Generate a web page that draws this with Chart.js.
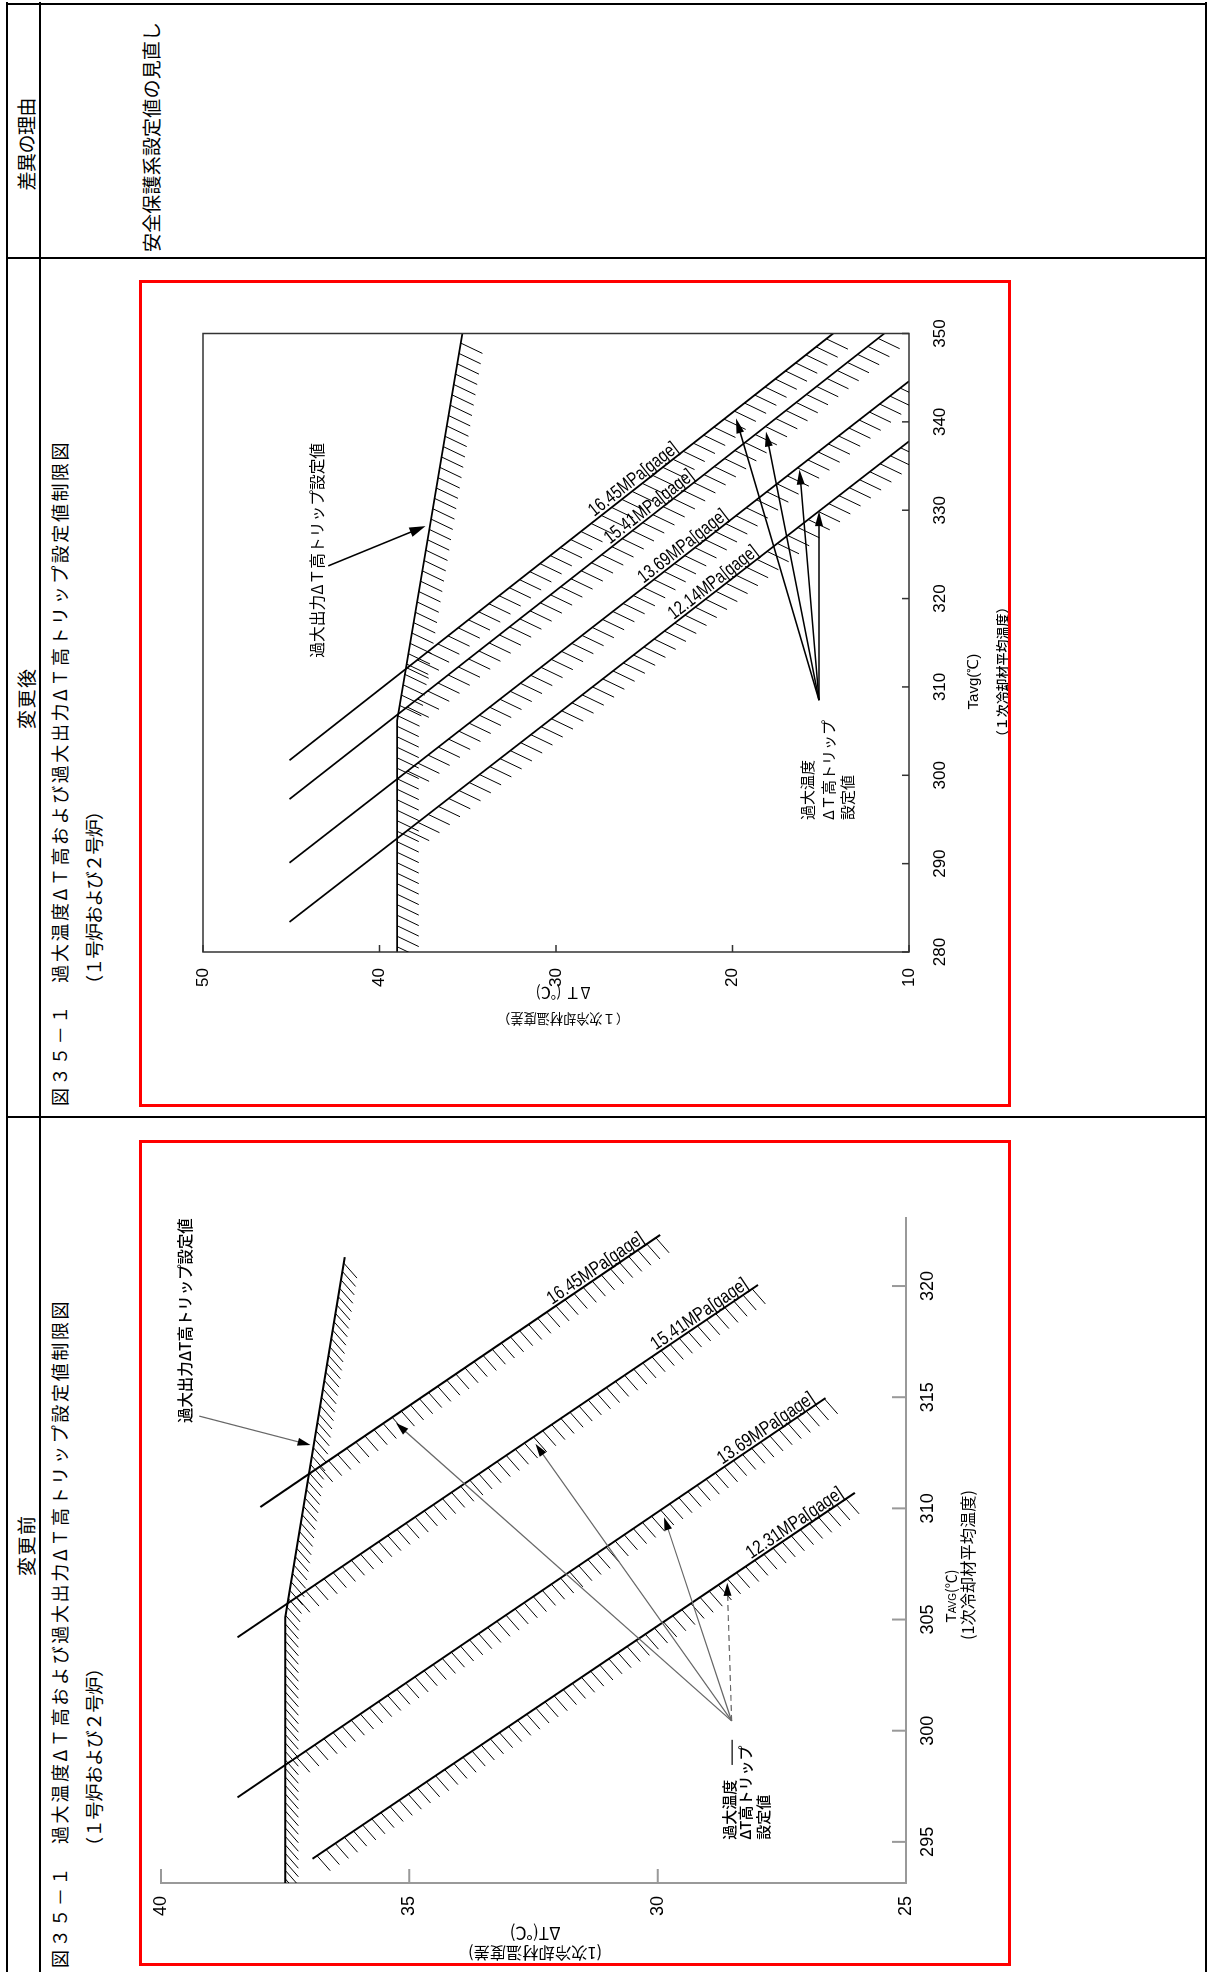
<!DOCTYPE html>
<html lang="ja"><head><meta charset="utf-8"><title>図35-1 過大温度ΔT高および過大出力ΔT高トリップ設定値制限図</title>
<script src="https://cdn.jsdelivr.net/npm/chart.js@4.4.1/dist/chart.umd.min.js"></script>
<style>
html,body{margin:0;padding:0;background:#fff;width:1208px;height:1972px;overflow:hidden;}
#page{position:absolute;left:0;top:0;width:1972px;height:1208px;transform-origin:0 0;transform:translate(0px,1972px) rotate(-90deg);background:#fff;}
.ln{position:absolute;background:#000;}
.tx{position:absolute;white-space:nowrap;line-height:1;font-family:"Noto Sans CJK JP",sans-serif;color:#000;}
.red{position:absolute;border:3px solid #ff0000;box-sizing:border-box;pointer-events:none;}
canvas{position:absolute;}
</style></head><body>
<div id="page">
  <div class="ln" style="left:-10px;top:6px;width:1980px;height:2px"></div>
  <div class="ln" style="left:-10px;top:39px;width:1980px;height:2px"></div>
  <div class="ln" style="left:-10px;top:1205px;width:1980px;height:2px"></div>
  <div class="ln" style="left:1967px;top:6px;width:2px;height:1201px"></div>
  <div class="ln" style="left:1713px;top:6px;width:2px;height:1201px"></div>
  <div class="ln" style="left:854px;top:6px;width:2px;height:1201px"></div>
  <canvas id="cBefore" width="826" height="872" style="left:6px;top:139px"></canvas>
  <canvas id="cAfter" width="827" height="872" style="left:865px;top:139px"></canvas>
  <div class="red" style="left:6px;top:139px;width:826px;height:872px"></div>
  <div class="red" style="left:865px;top:139px;width:827px;height:872px"></div>
</div>
<script>
// ===== table texts =====
const headerTexts = ['変更前', '変更後', '差異の理由'];
const reasonText = '安全保護系設定値の見直し';
const titleLine1 = '図３５－１　過大温度ΔＴ高および過大出力ΔＴ高トリップ設定値制限図';
const titleLine2 = '（１号炉および２号炉）';

// ===== 変更後 (after) chart data =====
const afterTickT = [280, 290, 300, 310, 320, 330, 340, 350];
const afterTickDT = [10, 20, 30, 40, 50];
const afterOpT = [280, 306.2, 350];
const afterOpDT = [39.0, 39.0, 35.3];
const afterNames = ['16.45MPa[gage]', '15.41MPa[gage]', '13.69MPa[gage]', '12.14MPa[gage]'];
const afterLineT = [[301.7, 350], [297.3, 350], [290.1, 344.6], [283.4, 337.8]];
const afterLineDT = [[45.1, 14.3], [45.1, 11.4], [45.1, 10.0], [45.1, 10.0]];
const afterLabelT = [336.5, 333.4, 328.9, 324.8];
const afterTripFrom = [308.5, 15.1];
const afterTripTipT = [340.4, 338.9, 334.6, 329.9];
const afterTripTipDT = [19.8, 18.1, 16.2, 15.1];
const afterOpArrowT = [323.7, 328.2];
const afterOpArrowDT = [42.9, 37.4];
const afterOpText = '過大出力ΔＴ高トリップ設定値';
const afterOpTextPos = [313.3, 43.55];
const afterTripText = ['過大温度', 'ΔＴ高トリップ', '設定値'];
const afterTripTextT = 294.95;
const afterTripTextDT = [15.76, 14.57, 13.5];
const afterYTitle = ['ΔＴ (℃)', '（１次冷却材温度差）'];
const afterXTitle = ['Tavg(℃)', '（１次冷却材平均温度）'];

// ===== 変更前 (before) chart data =====
const beforeTickT = [295, 300, 305, 310, 315, 320];
const beforeTickDT = [25, 30, 35, 40];
const beforeRangeT = [293.15, 323.06];
const beforeOpT = [293.15, 305.1, 321.3];
const beforeOpDT = [37.5, 37.5, 36.3];
const beforeNames = ['16.45MPa[gage]', '15.41MPa[gage]', '13.69MPa[gage]', '12.31MPa[gage]'];
const beforeLineT = [[310.06, 322.3], [304.2, 320.05], [297.0, 314.96], [294.24, 310.7]];
const beforeLineDT = [[38.0, 29.95], [38.46, 27.98], [38.46, 26.62], [36.95, 26.03]];
const beforeLabelT = [321.9, 319.84, 314.71, 310.44];
const beforeTripFrom = [300.44, 28.51];
const beforeTripTipT = [313.84, 312.9, 309.6, 306.65];
const beforeTripTipDT = [35.27, 32.46, 29.87, 28.6];
const beforeLeaderT = [298.46, 299.59];
const beforeLeaderDT = 28.5;
const beforeOpArrowT = [314.15, 312.85];
const beforeOpArrowDT = [39.23, 36.99];
const beforeOpText = '過大出力ΔT高トリップ設定値';
const beforeOpTextPos = [313.84, 39.52];
const beforeTripText = ['過大温度', 'ΔT高トリップ', '設定値'];
const beforeTripTextT = 295.09;
const beforeTripTextDT = [28.56, 28.24, 27.88];
const beforeYTitle = ['ΔT(℃)', '(1次冷却材温度差)'];
const beforeXTitle = ['T', 'AVG', '(℃)', '(1次冷却材平均温度)'];

// ===== build table texts =====
const page = document.getElementById('page');
function addText(s, o) {
  const el = document.createElement('div');
  el.className = 'tx';
  el.textContent = s;
  el.style.fontSize = o.size + 'px';
  if (o.weight) el.style.fontWeight = o.weight;
  el.style.top = (o.cy - o.size * 0.55) + 'px';
  page.appendChild(el);
  const n = [...s].length;
  const w0 = el.offsetWidth;
  if (o.w && n > 1) el.style.letterSpacing = ((o.w - w0) / (n - 1)) + 'px';
  const left = (o.cx !== undefined) ? o.cx - o.w / 2 : o.x;
  el.style.left = left + 'px';
}
addText(headerTexts[0], {cx: 426, cy: 26, size: 19, w: 60});
addText(headerTexts[1], {cx: 1273, cy: 26, size: 19, w: 60});
addText(headerTexts[2], {cx: 1828, cy: 26, size: 19, w: 93});
addText(reasonText, {x: 1720, cy: 151, size: 19, w: 230});
addText(titleLine1, {x: 866, cy: 60, size: 18, w: 664});
addText(titleLine2, {x: 979, cy: 94, size: 18, w: 191});
addText(titleLine1, {x: 4, cy: 60, size: 18, w: 667});
addText(titleLine2, {x: 117, cy: 94, size: 18, w: 196});

// ===== helpers =====
const JP = '"Noto Sans CJK JP", sans-serif';
const NARROW = '"Liberation Sans Narrow", "Liberation Sans", sans-serif';
function interp(xs, ys, x) {
  if (x <= xs[0]) return ys[0];
  for (let i = 1; i < xs.length; i++) {
    if (x <= xs[i]) { const f = (x - xs[i-1]) / (xs[i] - xs[i-1]); return ys[i-1] + f * (ys[i] - ys[i-1]); }
  }
  return ys[ys.length - 1];
}
function drawText(ctx, s, x, y, o) {
  ctx.save();
  let size = o.size;
  const fam = o.family || JP;
  ctx.font = (o.weight || 'normal') + ' ' + size + 'px ' + fam;
  if (o.fitW) { const w = ctx.measureText(s).width; size = size * o.fitW / w; ctx.font = (o.weight || 'normal') + ' ' + size + 'px ' + fam; }
  ctx.fillStyle = o.color || '#000';
  ctx.textAlign = o.align || 'left';
  ctx.textBaseline = o.baseline || 'middle';
  ctx.translate(x, y);
  if (o.rot) ctx.rotate(o.rot);
  ctx.fillText(s, 0, 0);
  ctx.restore();
}
function hatchLine(ctx, xs, ys, h) {
  const pts = h.T.map((t, i) => [xs.getPixelForValue(t), ys.getPixelForValue(h.D[i])]);
  let carry = h.step / 2;
  for (let i = 1; i < pts.length; i++) {
    const [x0, y0] = pts[i-1], [x1, y1] = pts[i];
    const len = Math.hypot(x1 - x0, y1 - y0); if (!len) continue;
    const ux = (x1 - x0) / len, uy = (y1 - y0) / len;
    let s = carry;
    for (; s <= len; s += h.step) {
      const px = x0 + ux * s, py = y0 + uy * s;
      if (h.limT) {
        const t = xs.getValueForPixel(px), d = ys.getValueForPixel(py);
        if (d > interp(h.limT, h.limD, t) - 0.05) continue;
      }
      ctx.moveTo(px, py); ctx.lineTo(px + h.dir[0] * h.len, py + h.dir[1] * h.len);
    }
    carry = s - len;
  }
}
function arrow(ctx, x0, y0, x1, y1, a) {
  const ang = Math.atan2(y1 - y0, x1 - x0), c = Math.cos(ang), s = Math.sin(ang);
  ctx.save();
  ctx.strokeStyle = a.color; ctx.lineWidth = a.width; ctx.setLineDash(a.dash || []);
  ctx.beginPath(); ctx.moveTo(x0, y0); ctx.lineTo(x1 - c * a.head * 0.7, y1 - s * a.head * 0.7); ctx.stroke();
  ctx.setLineDash([]); ctx.fillStyle = '#000';
  ctx.beginPath(); ctx.moveTo(x1, y1);
  ctx.lineTo(x1 - c * a.head - s * a.half, y1 - s * a.head + c * a.half);
  ctx.lineTo(x1 - c * a.head + s * a.half, y1 - s * a.head - c * a.half);
  ctx.closePath(); ctx.fill();
  ctx.restore();
}

function makeOverlay(cfg) {
  return {
    id: 'overlay_' + cfg.name,
    afterDatasetsDraw(chart) {
      const ctx = chart.ctx, xs = chart.scales.x, ys = chart.scales.y, ca = chart.chartArea;
      const X = v => xs.getPixelForValue(v), Y = v => ys.getPixelForValue(v);
      ctx.save();
      if (cfg.frame) {
        ctx.strokeStyle = cfg.frame.color; ctx.lineWidth = cfg.frame.width;
        ctx.strokeRect(ca.left, ca.top, ca.right - ca.left, ca.bottom - ca.top);
      }
      // inward tick marks
      ctx.strokeStyle = cfg.tick.color; ctx.lineWidth = cfg.tick.width; ctx.beginPath();
      cfg.tick.x.forEach(v => { const p = X(v); ctx.moveTo(p, ca.bottom); ctx.lineTo(p, ca.bottom - cfg.tick.len); });
      cfg.tick.y.forEach(v => { const p = Y(v); ctx.moveTo(ca.left, p); ctx.lineTo(ca.left + cfg.tick.len, p); });
      ctx.stroke();
      // hatching
      ctx.save();
      ctx.beginPath(); ctx.rect(ca.left, ca.top, ca.right - ca.left, ca.bottom - ca.top); ctx.clip();
      ctx.strokeStyle = '#000'; ctx.lineWidth = cfg.hatchWidth; ctx.beginPath();
      cfg.hatches.forEach(h => hatchLine(ctx, xs, ys, h));
      ctx.stroke();
      ctx.restore();
      // pressure labels along lines
      cfg.lines.forEach(L => {
        const x0 = X(L.T[0]), y0 = Y(L.D[0]), x1 = X(L.T[L.T.length-1]), y1 = Y(L.D[L.D.length-1]);
        const ang = Math.atan2(y1 - y0, x1 - x0);
        const px = X(L.labelT), py = Y(interp(L.T, L.D, L.labelT));
        ctx.save();
        ctx.translate(px, py); ctx.rotate(ang);
        ctx.font = cfg.labelFont.size + 'px ' + NARROW;
        const w = ctx.measureText(L.name).width;
        ctx.scale(cfg.labelFont.width / w, 1);
        ctx.fillStyle = '#000'; ctx.textAlign = 'right'; ctx.textBaseline = 'alphabetic';
        ctx.fillText(L.name, 0, -cfg.labelFont.gap);
        ctx.restore();
      });
      // arrows
      cfg.arrows.forEach(a => arrow(ctx, X(a.from[0]), Y(a.from[1]), X(a.to[0]), Y(a.to[1]), a.style));
      (cfg.segments || []).forEach(sg => {
        ctx.save(); ctx.strokeStyle = sg.color; ctx.lineWidth = sg.width; ctx.beginPath();
        ctx.moveTo(X(sg.T[0]), Y(sg.D)); ctx.lineTo(X(sg.T[1]), Y(sg.D)); ctx.stroke(); ctx.restore();
      });
      // texts in data coordinates
      cfg.texts.forEach(t => drawText(ctx, t.s, X(t.T), Y(t.D), t.o));
      // axis titles
      cfg.yTitle.forEach(t => drawText(ctx, t.s, ca.left + t.dx, Y(t.D), Object.assign({rot: -Math.PI / 2, align: 'center'}, t.o)));
      cfg.xTitle(ctx, X, ca);
      ctx.restore();
    }
  };
}

const lineStyle = {showLine: true, borderColor: '#000', pointRadius: 0, fill: false, tension: 0};
function toPts(T, D) { return T.map((t, i) => ({x: t, y: D[i]})); }

// ===== after (変更後) =====
const hatchDirAfter = [-0.43, 0.9];
const cfgAfter = {
  name: 'after',
  frame: {color: '#333', width: 1.5},
  tick: {x: afterTickT, y: afterTickDT, len: 7, color: '#333', width: 1.5},
  hatchWidth: 1,
  hatches: [{T: afterOpT, D: afterOpDT, dir: hatchDirAfter, len: 24, step: 10.5}]
    .concat(afterLineT.map((T, i) => ({T, D: afterLineDT[i], dir: hatchDirAfter, len: 24, step: 13, limT: afterOpT, limD: afterOpDT}))),
  lines: afterLineT.map((T, i) => ({T, D: afterLineDT[i], name: afterNames[i], labelT: afterLabelT[i]})),
  labelFont: {size: 19, width: 108, gap: 3},
  arrows: afterTripTipT.map((t, i) => ({from: afterTripFrom, to: [t, afterTripTipDT[i]], style: {color: '#000', width: 1.6, head: 15, half: 4}}))
    .concat([{from: [afterOpArrowT[0], afterOpArrowDT[0]], to: [afterOpArrowT[1], afterOpArrowDT[1]], style: {color: '#000', width: 1.6, head: 16, half: 5}}]),
  texts: [{s: afterOpText, T: afterOpTextPos[0], D: afterOpTextPos[1], o: {size: 15, fitW: 215}}]
    .concat(afterTripText.map((s, i) => ({s, T: afterTripTextT, D: afterTripTextDT[i], o: {size: 15}}))),
  yTitle: [{s: afterYTitle[0], dx: -41, D: 29.6, o: {size: 13.5, fitW: 55}}, {s: afterYTitle[1], dx: -67, D: 29.6, o: {size: 13.5, fitW: 132}}],
  xTitle(ctx, X, ca) {
    drawText(ctx, afterXTitle[0], X(310.6), ca.bottom + 65, {size: 15, align: 'center', family: '"Liberation Sans", sans-serif'});
    drawText(ctx, afterXTitle[1], X(311.7), ca.bottom + 93, {size: 13, align: 'center', fitW: 143, weight: '500'});
  }
};
new Chart(document.getElementById('cAfter'), {
  type: 'scatter',
  data: {datasets: [Object.assign({data: toPts(afterOpT, afterOpDT), borderWidth: 1.8}, lineStyle)]
    .concat(afterLineT.map((T, i) => Object.assign({data: toPts(T, afterLineDT[i]), borderWidth: 1.8}, lineStyle)))},
  options: {
    responsive: false, animation: false, devicePixelRatio: 1, events: [],
    layout: {padding: {left: 0, top: 64, right: 53.5, bottom: 0}},
    plugins: {legend: {display: false}, tooltip: {enabled: false}},
    scales: {
      x: {type: 'linear', min: afterTickT[0], max: afterTickT[afterTickT.length-1],
          afterBuildTicks: s => { s.ticks = afterTickT.map(v => ({value: v})); },
          afterFit: s => { s.height = 102; },
          grid: {display: false}, border: {display: false},
          ticks: {padding: 13, color: '#000', maxRotation: 0, autoSkip: false, font: {family: NARROW, size: 17}}},
      y: {type: 'linear', min: afterTickDT[0], max: afterTickDT[afterTickDT.length-1],
          afterBuildTicks: s => { s.ticks = afterTickDT.map(v => ({value: v})); },
          afterFit: s => { s.width = 155; },
          grid: {display: false}, border: {display: false},
          ticks: {padding: 8, color: '#000', autoSkip: false, font: {family: NARROW, size: 17}}}
    }
  },
  plugins: [makeOverlay(cfgAfter)]
});

// ===== before (変更前) =====
const hatchDirBefore = [-0.75, 0.66];
const grayArrow = {color: '#666', width: 1.2, head: 13, half: 4};
const cfgBefore = {
  name: 'before',
  frame: null,
  tick: {x: beforeTickT, y: beforeTickDT, len: 14, color: '#999', width: 2},
  hatchWidth: 1,
  hatches: [{T: beforeOpT, D: beforeOpDT, dir: hatchDirBefore, len: 20, step: 8.5}]
    .concat(beforeLineT.map((T, i) => ({T, D: beforeLineDT[i], dir: hatchDirBefore, len: 20, step: 11, limT: beforeOpT, limD: beforeOpDT}))),
  lines: beforeLineT.map((T, i) => ({T, D: beforeLineDT[i], name: beforeNames[i], labelT: beforeLabelT[i]})),
  labelFont: {size: 19, width: 113, gap: 3},
  arrows: beforeTripTipT.map((t, i) => ({from: beforeTripFrom, to: [t, beforeTripTipDT[i]],
      style: Object.assign({}, grayArrow, i === 3 ? {dash: [6, 4]} : {})}))
    .concat([{from: [beforeOpArrowT[0], beforeOpArrowDT[0]], to: [beforeOpArrowT[1], beforeOpArrowDT[1]], style: grayArrow}]),
  segments: [{T: beforeLeaderT, D: beforeLeaderDT, color: '#333', width: 1.5}],
  texts: [{s: beforeOpText, T: beforeOpTextPos[0], D: beforeOpTextPos[1], o: {size: 15, fitW: 205, weight: '500'}}]
    .concat(beforeTripText.map((s, i) => ({s, T: beforeTripTextT, D: beforeTripTextDT[i], o: {size: 15, weight: '500'}}))),
  yTitle: [{s: beforeYTitle[0], dx: -51, D: 32.47, o: {size: 13.5, fitW: 51}}, {s: beforeYTitle[1], dx: -70, D: 32.47, o: {size: 13.5, fitW: 134}}],
  xTitle(ctx, X, ca) {
    ctx.save();
    const y = ca.bottom + 45;
    const f1 = '15px "Liberation Sans", sans-serif', f2 = '10px "Liberation Sans", sans-serif', f3 = '14px ' + JP;
    ctx.font = f1; const w1 = ctx.measureText(beforeXTitle[0]).width;
    ctx.font = f2; const w2 = ctx.measureText(beforeXTitle[1]).width;
    ctx.font = f3; const w3 = ctx.measureText(beforeXTitle[2]).width;
    let x = X(306.06) - (w1 + w2 + w3) / 2;
    ctx.fillStyle = '#000'; ctx.textBaseline = 'alphabetic'; ctx.textAlign = 'left';
    ctx.font = f1; ctx.fillText(beforeXTitle[0], x, y + 5); x += w1;
    ctx.font = f2; ctx.fillText(beforeXTitle[1], x, y + 5); x += w2;
    ctx.font = f3; ctx.fillText(beforeXTitle[2], x, y + 5);
    ctx.restore();
    drawText(ctx, beforeXTitle[3], X(307.45), ca.bottom + 62, {size: 13.5, align: 'center', fitW: 150});
  }
};
new Chart(document.getElementById('cBefore'), {
  type: 'scatter',
  data: {datasets: [Object.assign({data: toPts(beforeOpT, beforeOpDT), borderWidth: 2}, lineStyle)]
    .concat(beforeLineT.map((T, i) => Object.assign({data: toPts(T, beforeLineDT[i]), borderWidth: 2}, lineStyle)))},
  options: {
    responsive: false, animation: false, devicePixelRatio: 1, events: [],
    layout: {padding: {left: 0, top: 22, right: 78, bottom: 0}},
    plugins: {legend: {display: false}, tooltip: {enabled: false}},
    scales: {
      x: {type: 'linear', min: beforeRangeT[0], max: beforeRangeT[1],
          afterBuildTicks: s => { s.ticks = beforeTickT.map(v => ({value: v})); },
          afterFit: s => { s.height = 105; },
          grid: {display: false}, border: {display: true, color: '#999', width: 2},
          ticks: {padding: 3, color: '#000', maxRotation: 0, autoSkip: false, font: {family: NARROW, size: 18}}},
      y: {type: 'linear', min: beforeTickDT[0], max: beforeTickDT[beforeTickDT.length-1],
          afterBuildTicks: s => { s.ticks = beforeTickDT.map(v => ({value: v})); },
          afterFit: s => { s.width = 83; },
          grid: {display: false}, border: {display: true, color: '#999', width: 2},
          ticks: {padding: 5, color: '#000', autoSkip: false, font: {family: NARROW, size: 18}}}
    }
  },
  plugins: [makeOverlay(cfgBefore)]
});
</script>
</body></html>
